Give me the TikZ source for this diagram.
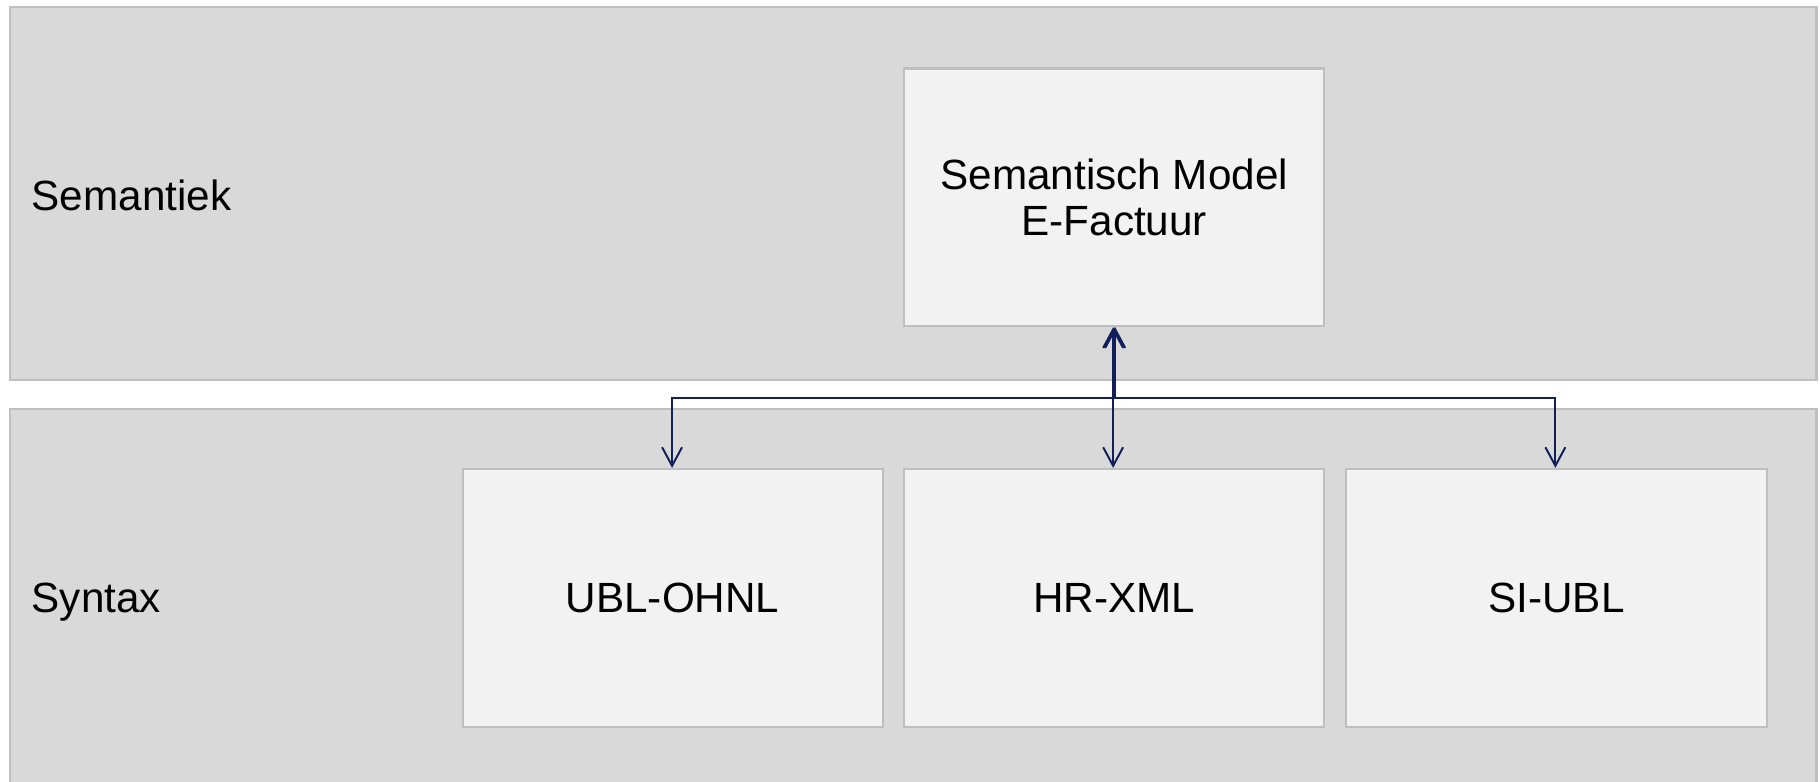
\documentclass[tikz,border=0pt]{standalone}
\usepackage{fontspec}
\setmainfont{Liberation Sans}
\usetikzlibrary{arrows.meta}
\definecolor{panelfill}{HTML}{D9D9D9}
\definecolor{boxfill}{HTML}{F2F2F2}
\definecolor{edgegray}{HTML}{BFBFBF}
\definecolor{navy}{HTML}{121F5A}
\begin{document}
\begin{tikzpicture}[x=0.5pt,y=-0.5pt,
  panel/.style={draw=edgegray,fill=panelfill,line width=0.9pt},
  itembox/.style={draw=edgegray,fill=boxfill,line width=0.9pt,minimum width=181pt,minimum height=111pt,inner sep=0pt},
  lbl/.style={font=\fontsize{18.2}{20}\selectfont,align=center,inner sep=0pt},
  conn/.style={draw=navy,line width=0.85pt,{Straight Barb[length=8pt,width=8.6pt]}-{Straight Barb[length=8pt,width=8.6pt]}}]
\useasboundingbox (0,0) rectangle (1568,672.9);
\fill[white] (0,0) rectangle (1568,672.9);
% panels
\path[panel] (9,6) rectangle (1565,327);
\path[panel] (9,352) rectangle (1565,690);
\node[lbl,anchor=west] (semlab) at (27,168) {Semantiek};
\node[lbl,anchor=west] (synlab) at (27,519) {Syntax};
% boxes
\node[itembox] (sem) at (960,170) {};
\node[lbl] (semtxt) at (sem.center) {Semantisch Model\\E-Factuur};
\node[itembox] (ubl) at (579.5,515) {};
\node[lbl] (ubltxt) at (ubl.center) {UBL-OHNL};
\node[itembox] (hr) at (960,515) {};
\node[lbl] (hrtxt) at (hr.center) {HR-XML};
\node[itembox] (si) at (1341,515) {};
\node[lbl] (sitxt) at (si.center) {SI-UBL};
% connectors
\coordinate (jl) at (960.6,343);
\draw[conn] ([xshift=0.3pt]sem.south) -- (jl) -| ([xshift=-0.25pt]ubl.north);
\draw[conn] ([xshift=-0.5pt]sem.south) -- ([xshift=-0.5pt]hr.north);
\draw[conn] ([xshift=0.3pt]sem.south) -- (jl) -| ([xshift=-0.5pt]si.north);
\end{tikzpicture}
\end{document}
